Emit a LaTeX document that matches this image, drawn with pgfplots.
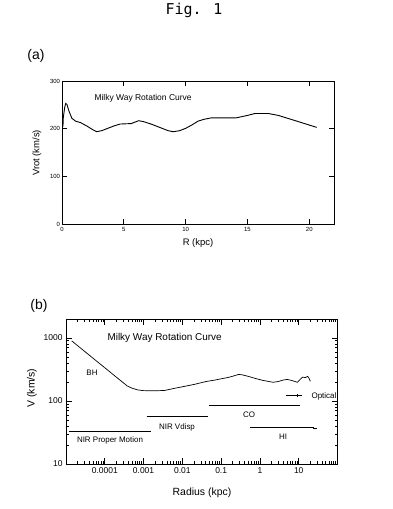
\documentclass[border=0pt]{standalone}
\usepackage{fontspec}
\setmainfont{Liberation Sans}
\newfontfamily\monofont{DejaVu Sans Mono}
\usepackage{pgfplots}
\pgfplotsset{compat=1.18}
\begin{document}
\begin{tikzpicture}[x=1bp,y=1bp]
\useasboundingbox (0,0) rectangle (392,509);
% ---------------- panel (a)
\begin{axis}[
  at={(62bp,284.5bp)}, anchor=south west,
  scale only axis, width=272bp, height=143.5bp,
  xmin=0, xmax=22, ymin=0, ymax=300,
  xtick={0,5,10,15,20}, ytick={0,100,200,300},
  tick align=inside, xtick pos=both, ytick pos=both,
  xticklabel pos=left, yticklabel pos=left,
  major tick length=5bp,
  axis line style={line width=0.8bp}, every tick/.style={black,line width=0.7bp},
  tick label style={font=\fontsize{6}{7}\selectfont},
  /pgf/number format/assume math mode=true,
  xticklabel style={yshift=1bp}, yticklabel style={xshift=1.5bp},
]
\addplot[black, line width=0.9bp] coordinates {
(0.02,203) (0.08,206) (0.10,222) (0.15,232) (0.22,245) (0.3,253) (0.4,251)
(0.55,238) (0.8,222) (1.1,216) (1.5,213) (2.0,206) (2.5,198) (2.8,194)
(3.2,196) (3.7,201) (4.2,206) (4.7,210) (5.6,211) (6.2,217) (6.6,215)
(7.2,210) (7.9,203) (8.6,196) (9.0,194) (9.5,196) (10.0,201) (10.5,208)
(11.0,216) (11.5,220) (12.1,223) (14.1,223) (15.0,228) (15.6,232)
(16.7,232) (17.5,228) (19.0,216) (20.6,203)};
\end{axis}
% ---------------- panel (b)
\begin{axis}[
  at={(66bp,45bp)}, anchor=south west,
  scale only axis, width=271.5bp, height=145bp,
  xmode=log, ymode=log,
  xmin=1e-5, xmax=100, ymin=10, ymax=2000,
  xtick={1e-4,1e-3,1e-2,1e-1,1,10},
  xticklabels={0.0001,0.001,0.01,0.1,1,10},
  ytick={10,100,1000}, yticklabels={10,100,1000},
  minor xtick={2e-5,3e-5,4e-5,5e-5,6e-5,7e-5,8e-5,9e-5,
    2e-4,3e-4,4e-4,5e-4,6e-4,7e-4,8e-4,9e-4,
    2e-3,3e-3,4e-3,5e-3,6e-3,7e-3,8e-3,9e-3,
    0.02,0.03,0.04,0.05,0.06,0.07,0.08,0.09,
    0.2,0.3,0.4,0.5,0.6,0.7,0.8,0.9,
    2,3,4,5,6,7,8,9,20,30,40,50,60,70,80,90},
  minor ytick={20,30,40,50,60,70,80,90,200,300,400,500,600,700,800,900},
  tick align=inside, xtick pos=both, ytick pos=both,
  xticklabel pos=left, yticklabel pos=left,
  major tick length=6bp, minor tick length=3bp,
  axis line style={line width=0.8bp}, every tick/.style={black,line width=0.7bp},
  tick label style={font=\fontsize{8.5}{10}\selectfont},
  /pgf/number format/assume math mode=true,
]
\addplot[black, line width=0.7bp] coordinates {
(1.4e-5,900) (2e-5,753) (3e-5,615) (5e-5,476) (1e-4,337) (2e-4,238)
(3.8e-4,173) (5e-4,160) (7e-4,150) (1e-3,146) (2e-3,145) (3.5e-3,147)
(6e-3,158) (0.01,168) (0.02,183) (0.04,203) (0.07,215) (0.1,225)
(0.15,236) (0.2,247) (0.28,264) (0.35,260) (0.5,246) (0.8,226)
(1.2,212) (2.2,198) (3,204) (4,215) (5.1,220) (6.5,212) (8,204)
(9.3,198) (11,222) (12.5,238) (15,236) (17,246) (18.5,228) (20,205)};
\addplot[black, line width=1bp] coordinates {(1.2e-5,32.6) (0.0016,32.6)};
\addplot[black, line width=1bp] coordinates {(0.0012,56) (0.047,56)};
\addplot[black, line width=1bp] coordinates {(0.05,85) (11,85)};
\addplot[black, line width=1bp] coordinates {(0.56,37.6) (24,37.6) (24,36.2) (30,36.2)};
\addplot[black, line width=1bp] coordinates {(4.6,122) (12.5,122)};
\addplot[black, line width=0.7bp] coordinates {(9.3,116) (9.3,128)};
\end{axis}
% ---------------- texts
\node[font=\monofont\fontsize{15}{17}\selectfont, anchor=base] at (194,494) {Fig. 1};
\node[font=\fontsize{14}{16}\selectfont] at (36,453) {(a)};
\node[font=\fontsize{14}{16}\selectfont] at (39,203) {(b)};
% panel a labels
\node[font=\fontsize{8.5}{10}\selectfont, anchor=west] at (91,411) {Milky Way Rotation Curve};
\node[font=\fontsize{9.5}{11}\selectfont, rotate=90] at (37,356) {Vrot (km/s)};
\node[font=\fontsize{9.5}{11}\selectfont] at (198,266) {R (kpc)};
% panel b labels
\node[font=\fontsize{10}{12}\selectfont, anchor=west] at (104,171) {Milky Way Rotation Curve};
\node[font=\fontsize{10.5}{12}\selectfont, rotate=90] at (32,121) {V (km/s)};
\node[font=\fontsize{10.5}{12}\selectfont] at (202,16) {Radius (kpc)};
\node[font=\fontsize{8}{9}\selectfont] at (92,136) {BH};
\node[font=\fontsize{8}{9}\selectfont] at (110,69) {NIR Proper Motion};
\node[font=\fontsize{8}{9}\selectfont] at (177,82) {NIR Vdisp};
\node[font=\fontsize{8}{9}\selectfont] at (249,94) {CO};
\node[font=\fontsize{8}{9}\selectfont] at (283,72) {HI};
\node[font=\fontsize{8}{9}\selectfont] at (324,113) {Optical};
\end{tikzpicture}
\end{document}
